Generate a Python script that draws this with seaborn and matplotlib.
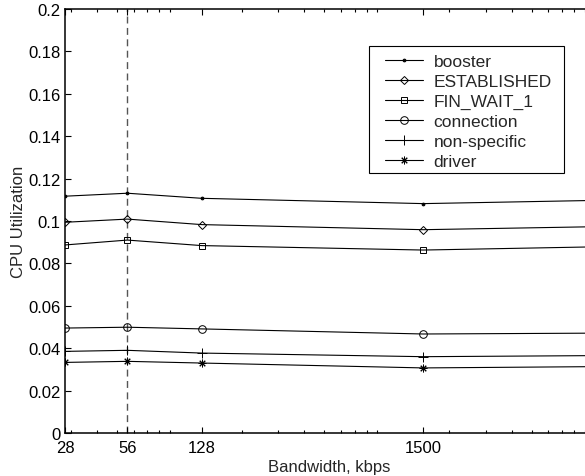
import matplotlib
matplotlib.use("Agg")
import matplotlib.pyplot as plt
import seaborn as sns
from matplotlib.patches import Rectangle
from matplotlib.ticker import FixedLocator, LogLocator, NullFormatter

# Bandwidth (kbps) and CPU utilisation per series
bandwidth = [28, 56, 128, 1500, 10000]
booster = [0.1117, 0.1131, 0.1107, 0.1082, 0.1097]
established = [0.0994, 0.1009, 0.0983, 0.0959, 0.0973]
fin_wait_1 = [0.0887, 0.0910, 0.0884, 0.0863, 0.0878]
connection = [0.0495, 0.0499, 0.0491, 0.0467, 0.0471]
non_specific = [0.0385, 0.0390, 0.0377, 0.0360, 0.0365]
driver = [0.0333, 0.0338, 0.0330, 0.0307, 0.0313]

series_names = ["booster", "ESTABLISHED", "FIN_WAIT_1", "connection", "non-specific", "driver"]
series_values = [booster, established, fin_wait_1, connection, non_specific, driver]

xtick_values = [28, 56, 128, 1500]
xtick_labels = ["28", "56", "128", "1500"]
ytick_values = [0, 0.02, 0.04, 0.06, 0.08, 0.1, 0.12, 0.14, 0.16, 0.18, 0.2]


def main() -> None:
    sns.set_theme(style="ticks")
    plt.rcParams["font.family"] = ["Liberation Sans", "DejaVu Sans"]
    plt.rcParams["font.size"] = 12

    fig = plt.figure(figsize=(5.85, 4.77), dpi=100)
    # right edge of the axes sits a little past the figure (picture is cropped)
    ax = fig.add_axes([65 / 585, 43 / 477, 529 / 585, 424 / 477])

    # Marker style for each series (MATLAB-like: . d s o + *)
    styles = {
        "booster": dict(marker=".", markersize=4, markerfacecolor="black"),
        "ESTABLISHED": dict(marker="D", markersize=3.8, markerfacecolor="none"),
        "FIN_WAIT_1": dict(marker="s", markersize=4.4, markerfacecolor="none"),
        "connection": dict(marker="o", markersize=5.5, markerfacecolor="none"),
        "non-specific": dict(marker="+", markersize=6.5),
        "driver": dict(marker=(8, 2, 0), markersize=5.5),
    }

    for name, values in zip(series_names, series_values):
        sns.lineplot(
            x=bandwidth, y=values, label=name, ax=ax,
            color="black", linewidth=0.8,
            markeredgecolor="black", markeredgewidth=0.7,
            **styles[name],
        )

    ax.axvline(56, color="#555555", linewidth=1.0, linestyle=(0, (5, 3.2)), zorder=0)

    ax.set_xscale("log")
    ax.set_xlim(28, 10000)
    ax.set_ylim(0, 0.2)
    ax.xaxis.set_major_locator(FixedLocator(xtick_values))
    ax.set_xticklabels(xtick_labels)
    ax.xaxis.set_minor_locator(LogLocator(base=10, subs=range(2, 10), numticks=20))
    ax.xaxis.set_minor_formatter(NullFormatter())
    ax.set_yticks(ytick_values)
    ax.set_yticklabels([f"{v:g}" for v in ytick_values])

    ax.tick_params(which="both", direction="in", top=True, right=True,
                   colors="black", labelsize=12, width=0.8)
    ax.tick_params(which="major", length=4)
    ax.tick_params(axis="x", which="major", pad=5)
    ax.tick_params(axis="y", which="major", pad=3)
    ax.tick_params(which="minor", length=2)
    for spine in ax.spines.values():
        spine.set_linewidth(1.1)
        spine.set_color("black")

    ax.set_xlabel("Bandwidth, kbps", fontsize=12, labelpad=3)
    ax.set_ylabel("CPU Utilization", fontsize=12, labelpad=2)

    # Legend box drawn separately so its padding can match the reference
    ax.add_patch(Rectangle(
        (369 / 585, (477 - 174.3) / 477), 195 / 585, 127 / 477,
        transform=fig.transFigure, facecolor="white", edgecolor="black",
        linewidth=0.8, zorder=4, clip_on=False,
    ))
    leg = ax.legend(
        loc="upper left", bbox_to_anchor=(385 / 585, (477 - 54.5) / 477),
        bbox_transform=fig.transFigure, fontsize=12.5,
        frameon=False, handlelength=2.2, handletextpad=0.6,
        labelspacing=0.28, borderpad=0, borderaxespad=0,
    )
    leg.set_zorder(6)

    fig.savefig("out.png", dpi=100)
    plt.close(fig)


if __name__ == "__main__":
    main()
